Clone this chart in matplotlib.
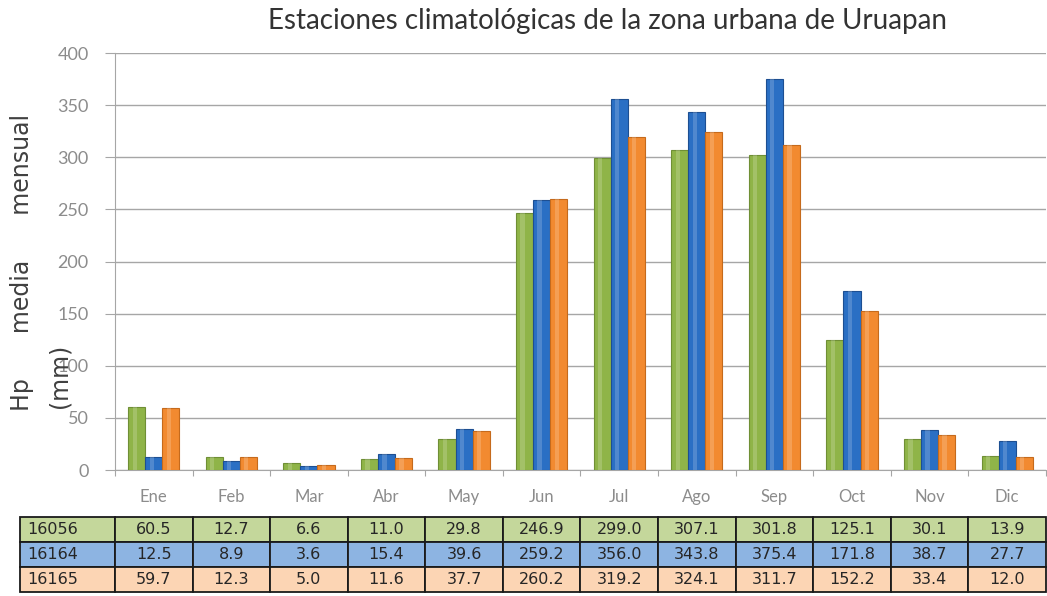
import numpy as np
import matplotlib.pyplot as plt

months = ["Ene", "Feb", "Mar", "Abr", "May", "Jun", "Jul", "Ago", "Sep", "Oct", "Nov", "Dic"]
stations = ["16056", "16164", "16165"]
st_16056 = [60.5, 12.7, 6.6, 11.0, 29.8, 246.9, 299.0, 307.1, 301.8, 125.1, 30.1, 13.9]
st_16164 = [12.5, 8.9, 3.6, 15.4, 39.6, 259.2, 356.0, 343.8, 375.4, 171.8, 38.7, 27.7]
st_16165 = [59.7, 12.3, 5.0, 11.6, 37.7, 260.2, 319.2, 324.1, 311.7, 152.2, 33.4, 12.0]

bar_colors = ["#8fb448", "#2a6fc4", "#f28a30"]
edge_colors = ["#6f8f35", "#1d4f92", "#c56a1c"]
cell_colors = ["#c4d79b", "#8db4e2", "#fcd5b4"]

plt.rcParams['font.family'] = ['Lato', 'DejaVu Sans']

fig = plt.figure(figsize=(10.47, 5.96), dpi=100)
ax = fig.add_axes([0.1098, 0.2114, 0.8892, 0.6996])

x = np.arange(len(months))
w = 0.22
series = [st_16056, st_16164, st_16165]
for i, vals in enumerate(series):
    ax.bar(x + (i - 1) * w, vals, width=w, color=bar_colors[i],
           edgecolor=edge_colors[i], linewidth=0.8, zorder=3)
    # light stripe so the bars look a bit like cylinders
    ax.bar(x + (i - 1) * w - w * 0.12, vals, width=w * 0.25, color="white",
           alpha=0.18, linewidth=0, zorder=4)

ax.set_xlim(-0.5, 11.5)
ax.set_ylim(0, 400)
ax.set_yticks(np.arange(0, 401, 50))
ax.yaxis.grid(True, color="#a6a6a6", linewidth=1.0, zorder=0)
ax.set_axisbelow(True)
for s in ["top", "right"]:
    ax.spines[s].set_visible(False)
ax.spines["left"].set_color("#a6a6a6")
ax.spines["bottom"].set_color("#a6a6a6")
ax.tick_params(axis="y", colors="#a6a6a6", labelcolor="#8c8c8c", labelsize=13, length=7, pad=12)

ax.set_xticks(np.arange(-0.5, 12, 1))
ax.set_xticklabels([])
ax.set_xticks(x, minor=True)
ax.set_xticklabels(months, minor=True)
ax.tick_params(axis="x", which="major", colors="#a6a6a6", length=4)
ax.tick_params(axis="x", which="minor", length=0, pad=14, labelcolor="#8c8c8c", labelsize=12)

fig.text(0.58, 0.965, "Estaciones climatológicas de la zona urbana de Uruapan", fontsize=20,
         color="#333333", ha="center", va="center")

fig.text(0.021, 0.56, "Hp      media      mensual", rotation=90, fontsize=17,
         color="#404040", ha="center", va="center", family="DejaVu Sans")
fig.text(0.057, 0.37, "(mm)", rotation=90, fontsize=17, color="#404040",
         ha="center", va="center", family="DejaVu Sans")

cell_text = []
for name, vals in zip(stations, series):
    cell_text.append([name] + ["%.1f" % v for v in vals])
colours = [[c] * 13 for c in cell_colors]
col_w = [95] + [77.6] * 12
tbl = ax.table(cellText=cell_text, cellColours=colours, colWidths=col_w,
               cellLoc="center", bbox=[-0.102, -0.2926, 1.102, 0.18])
tbl.auto_set_font_size(False)
tbl.set_fontsize(11.5)
for (r, c), cell in tbl.get_celld().items():
    cell.set_edgecolor("#1a1a1a")
    cell.set_linewidth(1.3)
    cell.get_text().set_color("#262626")
    cell.get_text().set_family("DejaVu Sans")
    if c == 0:
        cell.get_text().set_ha("left")
        cell.PAD = 0.08

fig.savefig("out.png", dpi=100)
